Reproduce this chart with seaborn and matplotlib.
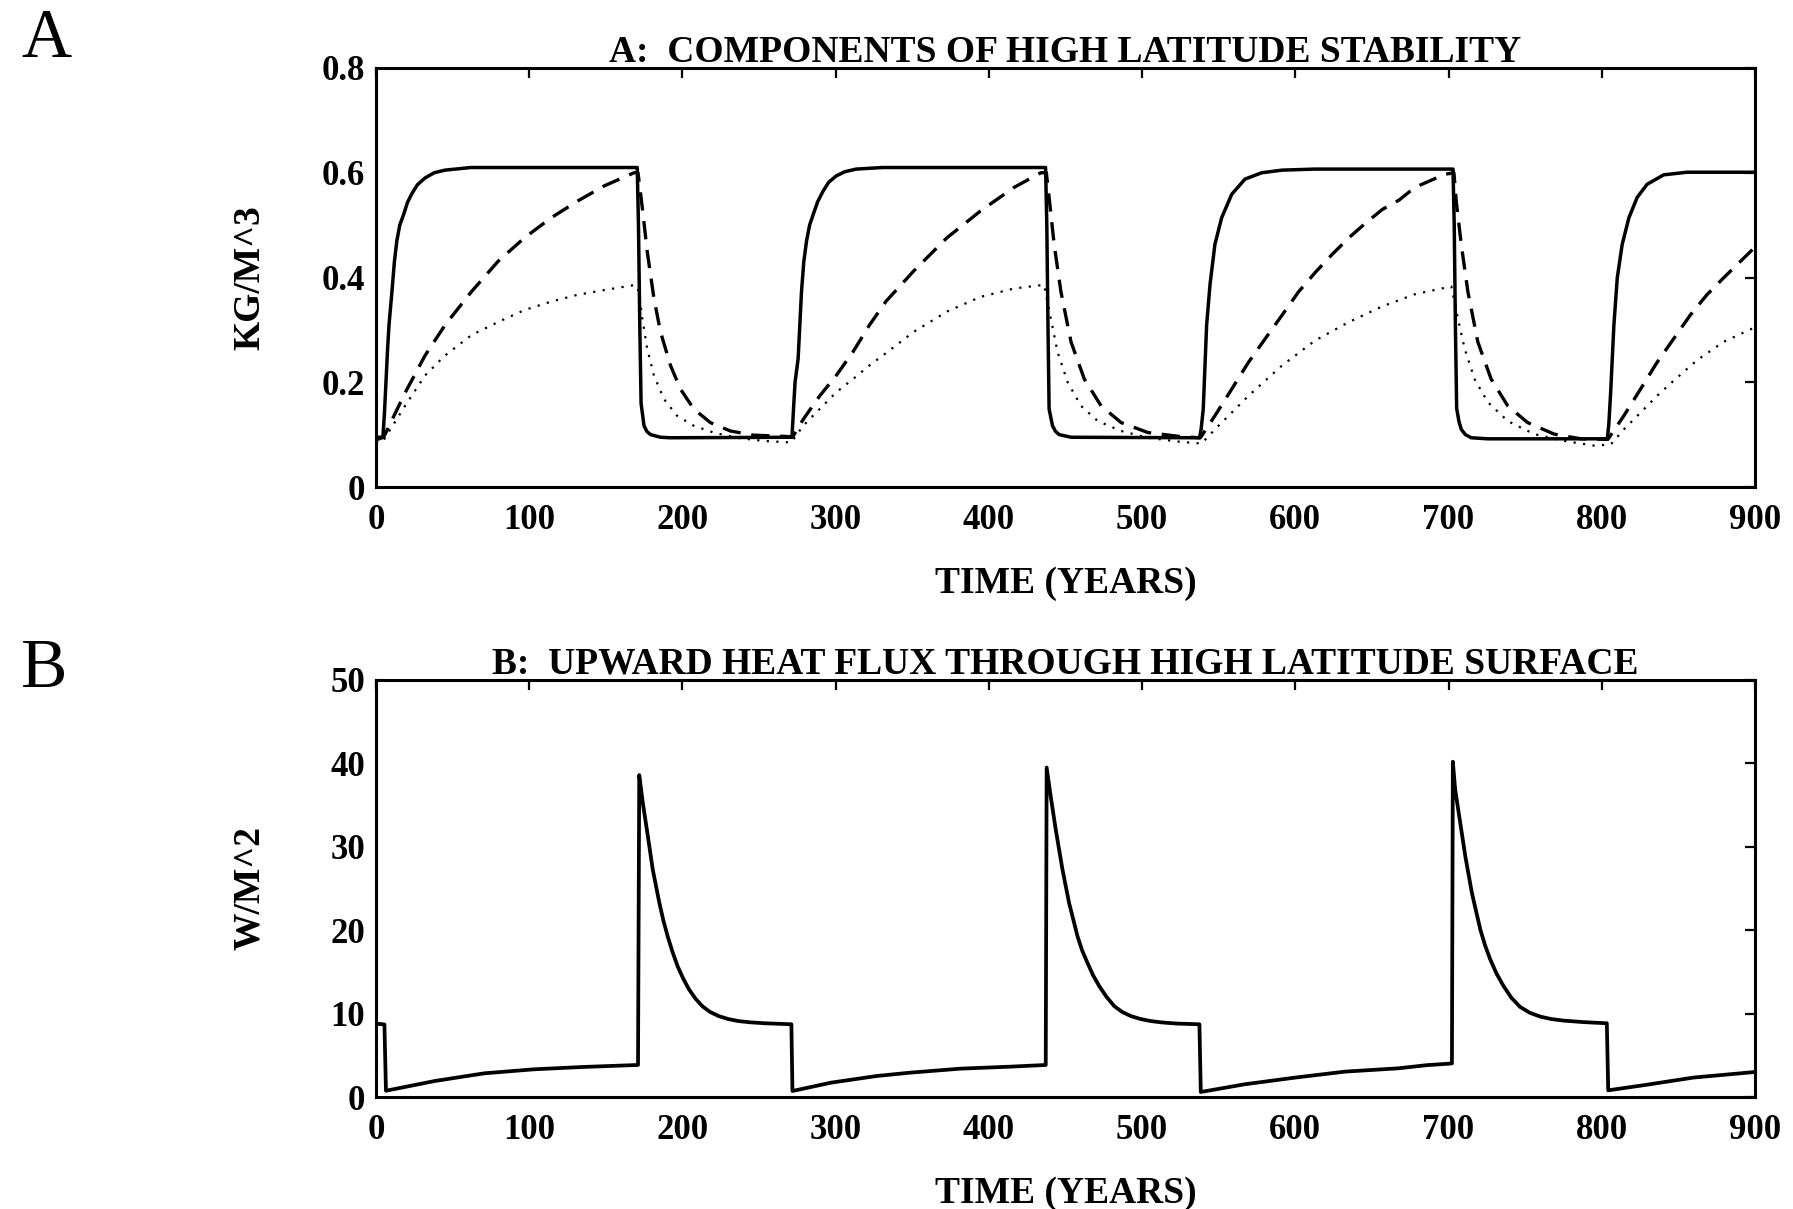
import numpy as np
import pandas as pd
import matplotlib
matplotlib.use("Agg")
import matplotlib.pyplot as plt
import seaborn as sns

# ---- panel A: components of high latitude stability (kg/m^3) ----
solid_t = [0, 4.5, 5.5, 6.5, 7.5, 8.5, 10.4, 12, 13.6, 15.5, 18, 20.5, 23.4, 27, 32, 38, 45, 62, 170.5,
           171.3, 172.2, 173, 174.9, 176.8, 179.2, 185.7, 192, 271.5,
           272.5, 273.5, 275.5, 277.7, 279.2, 281, 283, 285.3, 288.3, 291.8, 295.5, 300.4, 306, 313.4, 330.7, 437,
           437.8, 438.6, 439.3, 441.5, 443.5, 445.9, 453.6, 537.5,
           538.5, 539.9, 542.1, 544.3, 547.5, 551.9, 558.5, 567.2, 578.1, 591.3, 613, 702.9,
           703.7, 704.5, 705.3, 706.8, 708.3, 711, 714.8, 725.6, 803.6,
           804.6, 805.8, 807.9, 810.1, 813.3, 817.7, 823.1, 829.6, 840.4, 855.6, 900]
solid_v = [0.095, 0.095, 0.14, 0.2, 0.26, 0.31, 0.373, 0.43, 0.47, 0.5, 0.52, 0.543, 0.56, 0.577, 0.59, 0.6, 0.605, 0.61, 0.61,
           0.5, 0.3, 0.16, 0.117, 0.106, 0.10, 0.095, 0.094, 0.095,
           0.15, 0.2, 0.245, 0.373, 0.43, 0.47, 0.5, 0.52, 0.545, 0.565, 0.582, 0.594, 0.602, 0.607, 0.61, 0.61,
           0.5, 0.3, 0.149, 0.117, 0.106, 0.10, 0.095, 0.094,
           0.11, 0.149, 0.309, 0.386, 0.463, 0.514, 0.559, 0.588, 0.60, 0.605, 0.607, 0.607,
           0.5, 0.3, 0.15, 0.125, 0.11, 0.1, 0.094, 0.092, 0.092,
           0.12, 0.181, 0.309, 0.399, 0.463, 0.514, 0.553, 0.578, 0.596, 0.601, 0.601]

dashed_t = [0, 5, 19, 32, 45, 62.3, 79.7, 97, 114.3, 131.6, 149, 168.4, 171,
            173.8, 177, 181.4, 185.7, 192.2, 198.7, 207.4, 218.2, 231.2, 246.3, 272,
            278.8, 289.6, 300.4, 311.3, 322, 333, 350.8, 372.7, 394.5, 416.4, 433.9, 437.5,
            439.3, 442.6, 447, 453.6, 462.3, 473.2, 486.3, 503.8, 525.7, 538,
            547.5, 558.5, 569.4, 580.3, 591.3, 602.2, 613.1, 624, 635, 645.9, 656.8, 667.8,
            678, 697.5, 703.5,
            705, 708.3, 712.6, 719.1, 727.8, 738.6, 751.6, 768.9, 786.3, 804,
            814.4, 825.3, 836.1, 846.9, 857.7, 868.6, 879.4, 900]
dashed_v = [0.09, 0.095, 0.18, 0.251, 0.309, 0.373, 0.431, 0.476, 0.514, 0.546, 0.575, 0.60, 0.60,
            0.533, 0.45, 0.36, 0.296, 0.232, 0.187, 0.149, 0.123, 0.107, 0.099, 0.096,
            0.129, 0.174, 0.213, 0.258, 0.309, 0.355, 0.412, 0.476, 0.527, 0.572, 0.60, 0.60,
            0.553, 0.463, 0.373, 0.277, 0.206, 0.155, 0.123, 0.104, 0.096, 0.094,
            0.136, 0.187, 0.238, 0.283, 0.328, 0.373, 0.41, 0.444, 0.476, 0.504, 0.53, 0.548,
            0.572, 0.597, 0.60,
            0.546, 0.463, 0.373, 0.277, 0.206, 0.155, 0.123, 0.101, 0.092, 0.091,
            0.136, 0.187, 0.238, 0.283, 0.328, 0.367, 0.399, 0.458]

dotted_t = [0, 4, 19, 32, 45, 62.3, 79.7, 97, 114.3, 131.6, 149, 169.5,
            171.6, 173.8, 177, 181.4, 187.9, 196.5, 207.4, 220.3, 235.5, 252.8, 271,
            278.8, 289.6, 300.4, 311.3, 322, 333, 350.8, 372.7, 394.5, 416.4, 436,
            440.4, 444.8, 451.4, 460.1, 471, 486.3, 503.8, 525.7, 538.8,
            547.5, 558.5, 569.4, 580.3, 591.3, 613.1, 635, 656.8, 678, 701.8,
            706.1, 710.5, 717, 725.6, 738.6, 755.9, 775.4, 794.9, 805.8,
            814.4, 825.3, 836.1, 846.9, 862.1, 879.4, 900]
dotted_v = [0.085, 0.085, 0.155, 0.213, 0.251, 0.29, 0.315, 0.338, 0.354, 0.367, 0.376, 0.386,
            0.373, 0.322, 0.264, 0.213, 0.168, 0.136, 0.117, 0.104, 0.094, 0.088, 0.085,
            0.117, 0.149, 0.181, 0.206, 0.232, 0.256, 0.296, 0.335, 0.363, 0.379, 0.386,
            0.322, 0.258, 0.2, 0.155, 0.126, 0.107, 0.094, 0.086, 0.083,
            0.11, 0.142, 0.174, 0.203, 0.232, 0.28, 0.315, 0.345, 0.368, 0.383,
            0.322, 0.264, 0.206, 0.162, 0.126, 0.101, 0.088, 0.079, 0.081,
            0.11, 0.142, 0.174, 0.203, 0.242, 0.277, 0.305]

# ---- panel B: upward heat flux (W/m^2) ----
flux_t = [0, 5.5, 6.5, 38.4, 70.7, 103, 135, 171,
          171.8, 174.1, 177.4, 180.6, 184.9, 187.5, 190.3, 193.5, 196.8, 200.5, 204.3, 208.5, 212.9,
          218, 223.7, 229.8, 236.6, 244.5, 253.9, 271.1,
          271.8, 297, 326.9, 348.7, 381.5, 414.2, 437.1,
          437.7, 440.3, 443.6, 448, 452.3, 457.8, 460.8, 464.3, 468, 472, 476.8, 481.8, 487, 492.7,
          499, 505.8, 513.5, 523.2, 537.4,
          538.3, 566.8, 599.6, 632.3, 667.2, 685.9, 702.2,
          702.8, 704.3, 707.6, 710.9, 715.2, 720.7, 723.8, 727.2, 731.3, 735.9, 741, 746.7, 753,
          759.8, 767, 775, 788, 803.3,
          804.2, 827.2, 859.8, 900]
flux_v = [8.8, 8.7, 0.75, 1.92, 2.84, 3.32, 3.6, 3.84,
          38.6, 35.3, 31.3, 27.3, 23.3, 21.2, 19.3, 17.4, 15.7, 14.2, 12.9, 11.8, 10.9,
          10.2, 9.7, 9.35, 9.1, 8.95, 8.84, 8.72,
          0.72, 1.72, 2.52, 2.92, 3.4, 3.64, 3.84,
          39.5, 36.1, 32.1, 27.3, 23.3, 19.3, 17.6, 16.1, 14.6, 13.3, 12.0, 10.9, 10.2, 9.7,
          9.35, 9.1, 8.93, 8.8, 8.72,
          0.6, 1.52, 2.32, 3.04, 3.44, 3.82, 4.02,
          40.2, 36.9, 32.9, 28.9, 24.5, 20.1, 18.2, 16.5, 14.8, 13.3, 11.9, 10.8, 10.1,
          9.64, 9.35, 9.16, 8.98, 8.84,
          0.8, 1.41, 2.33, 3.0]

x_ticks = [0, 100, 200, 300, 400, 500, 600, 700, 800, 900]
a_ticks = [0, 0.2, 0.4, 0.6, 0.8]
a_ticklabels = ["0", "0.2", "0.4", "0.6", "0.8"]
b_ticks = [0, 10, 20, 30, 40, 50]

sns.set_theme(style="white")
plt.rcParams["font.family"] = ["Liberation Serif", "DejaVu Serif"]
plt.rcParams["text.color"] = "black"
plt.rcParams["axes.labelcolor"] = "black"
plt.rcParams["xtick.color"] = "black"
plt.rcParams["ytick.color"] = "black"

W, H = 1793, 1209
fig = plt.figure(figsize=(W / 100, H / 100), dpi=100)
ax_a = fig.add_axes([376 / W, 1 - 487 / H, 1379 / W, 419 / H])
ax_b = fig.add_axes([376 / W, 1 - 1097 / H, 1379 / W, 417 / H])

df_solid = pd.DataFrame({"t": solid_t, "v": solid_v})
df_dash = pd.DataFrame({"t": dashed_t, "v": dashed_v})
df_dot = pd.DataFrame({"t": dotted_t, "v": dotted_v})
df_flux = pd.DataFrame({"t": flux_t, "v": flux_v})

line_kw = dict(x="t", y="v", estimator=None, sort=False, color="black")
sns.lineplot(data=df_dot, ax=ax_a, lw=1.6, linestyle=(0, (1, 3.3)), **line_kw)
sns.lineplot(data=df_dash, ax=ax_a, lw=2.4, linestyle=(0, (5.5, 3.2)), **line_kw)
sns.lineplot(data=df_solid, ax=ax_a, lw=2.5, **line_kw)
sns.lineplot(data=df_flux, ax=ax_b, lw=2.7, **line_kw)

panels = [
    (ax_a, a_ticks, a_ticklabels, (0, 0.8), "KG/M^3",
     "A:  COMPONENTS OF HIGH LATITUDE STABILITY"),
    (ax_b, b_ticks, [str(v) for v in b_ticks], (0, 50), "W/M^2",
     "B:  UPWARD HEAT FLUX THROUGH HIGH LATITUDE SURFACE"),
]
for ax, yt, ytl, ylim, ylab, title in panels:
    ax.set_xlim(0, 900)
    ax.set_ylim(*ylim)
    ax.set_xticks(x_ticks, [str(v) for v in x_ticks])
    ax.set_yticks(yt, ytl)
    ax.tick_params(direction="in", top=True, right=True, length=7, width=1.6,
                   labelsize=25, colors="black")
    ax.tick_params(axis="x", pad=12)
    ax.tick_params(axis="y", pad=8)
    for lab in ax.get_xticklabels() + ax.get_yticklabels():
        lab.set_fontweight("bold")
    for sp in ax.spines.values():
        sp.set_linewidth(2.2)
        sp.set_color("black")
    ax.set_xlabel("TIME (YEARS)", fontsize=27, fontweight="bold", labelpad=21)
    ax.set_ylabel(ylab, fontsize=27, fontweight="bold")
    ax.yaxis.set_label_coords(-0.079, 0.5)
    ax.set_title(title, fontsize=27, fontweight="bold", pad=4.5)
    ax.grid(False)

fig.text(21 / W, 1 - 57 / H, "A", fontsize=50, ha="left", va="baseline")
fig.text(21 / W, 1 - 687 / H, "B", fontsize=50, ha="left", va="baseline")

fig.savefig("out.png", dpi=100, facecolor="white")
